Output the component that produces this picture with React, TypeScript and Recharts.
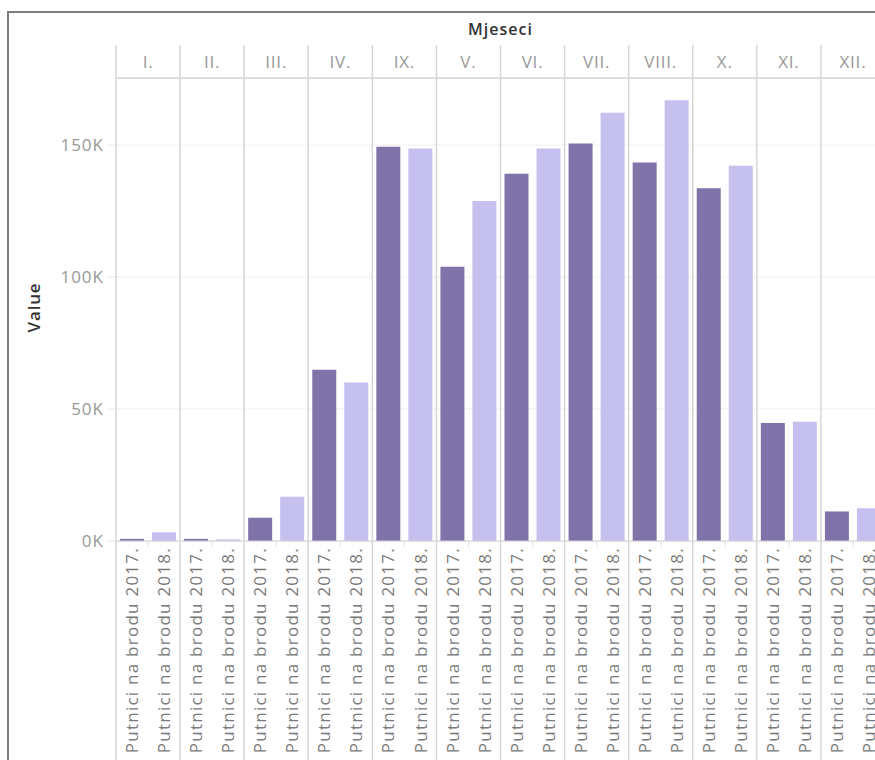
import React from 'react';
import { BarChart, Bar, XAxis, YAxis, CartesianGrid } from 'recharts';

const months = ['I.', 'II.', 'III.', 'IV.', 'IX.', 'V.', 'VI.', 'VII.', 'VIII.', 'X.', 'XI.', 'XII.'];
const seriesLabel2017 = 'Putnici na brodu 2017.';
const seriesLabel2018 = 'Putnici na brodu 2018.';
const values2017 = [800, 800, 8800, 64900, 149400, 103900, 139100, 150600, 143400, 133600, 44700, 11200];
const values2018 = [3300, 600, 16800, 60000, 148700, 128800, 148700, 162200, 167000, 142200, 45200, 12400];
const yTicks = [0, 50000, 100000, 150000];
const yMax = 175400;

const data = months.map((m, i) => ({ month: m, v2017: values2017[i], v2018: values2018[i] }));

const FONT = "'Open Sans', 'Noto Sans', sans-serif";
const CHART_W = 900;
const CHART_H = 760;
const MARGIN_TOP = 45;
const TOP_AXIS_H = 33;
const BOTTOM_AXIS_H = 219;
const Y_AXIS_W = 116;
const CAT_GAP = 4;
const BAR_GAP = 8;
const DIVIDER = '#d6d6d6';

const BottomTick = (props: any) => {
  const { x, y, payload } = props;
  const half = payload && payload.offset ? payload.offset : 32;
  const barSize = (2 * half - 2 * CAT_GAP - BAR_GAP) / 2;
  const c1 = x - half + CAT_GAP + barSize / 2;
  const c2 = c1 + barSize + BAR_GAP;
  const labelTop = y + 6;
  return (
    <g>
      <line x1={x - half} x2={x - half} y1={MARGIN_TOP} y2={CHART_H} stroke={DIVIDER} strokeWidth={1.5} />
      <line x1={x} x2={x} y1={y} y2={y + 6} stroke="#e2e2e2" strokeWidth={1} />
      {[{ cx: c1, t: seriesLabel2017 }, { cx: c2, t: seriesLabel2018 }].map((l, i) => (
        <text
          key={i}
          x={l.cx}
          y={labelTop}
          transform={`rotate(-90, ${l.cx}, ${labelTop})`}
          textAnchor="end"
          dy="0.36em"
          fill="#7a7a7a"
          fontSize={17}
          letterSpacing={1.25}
          fontFamily={FONT}
        >
          {l.t}
        </text>
      ))}
    </g>
  );
};

const ValueLabel = (props: any) => {
  const vb = props.viewBox || { y: 78, height: 463 };
  const cy = vb.y + vb.height / 2 - 2;
  const cx = 34;
  return (
    <text
      x={cx}
      y={cy}
      transform={`rotate(-90, ${cx}, ${cy})`}
      textAnchor="middle"
      dy="0.36em"
      fill="#333"
      fontSize={17}
      fontWeight={600}
      letterSpacing={0.8}
      fontFamily={FONT}
    >
      Value
    </text>
  );
};

export default function App() {
  return (
    <div style={{ position: 'absolute', left: 0, top: 0, width: 875, height: 760, overflow: 'hidden', background: '#fff' }}>
      <div style={{ position: 'absolute', left: 7, top: 11, width: 870, height: 2, background: '#7d7d7d' }} />
      <div style={{ position: 'absolute', left: 7, top: 11, width: 2, height: 760, background: '#7d7d7d' }} />
      <div style={{ position: 'absolute', left: 0, top: 0 }}>
        <BarChart
          width={CHART_W}
          height={CHART_H}
          data={data}
          margin={{ top: MARGIN_TOP, right: CHART_W - 885, left: 0, bottom: 0 }}
          barCategoryGap={CAT_GAP}
          barGap={BAR_GAP}
        >
          <CartesianGrid vertical={false} stroke="#efefef" strokeWidth={1} xAxisId="b" />
          <XAxis
            xAxisId="t"
            orientation="top"
            dataKey="month"
            height={TOP_AXIS_H}
            interval={0}
            tickLine={false}
            tickSize={0}
            tickMargin={10}
            axisLine={{ stroke: DIVIDER, strokeWidth: 1.5 }}
            tick={{ fill: '#999', fontSize: 17, fontFamily: FONT, letterSpacing: 0.8 }}
            label={{ value: 'Mjeseci', position: 'top', offset: 10, fill: '#333', fontSize: 16, fontWeight: 600, fontFamily: FONT, letterSpacing: 1 }}
          />
          <XAxis
            xAxisId="b"
            dataKey="month"
            height={BOTTOM_AXIS_H}
            interval={0}
            tickLine={false}
            tickSize={0}
            tickMargin={0}
            axisLine={{ stroke: '#cfcfcf', strokeWidth: 1 }}
            tick={<BottomTick />}
          />
          <YAxis
            width={Y_AXIS_W}
            domain={[0, yMax]}
            ticks={yTicks}
            allowDataOverflow
            axisLine={false}
            tickLine={{ stroke: '#e6e6e6' }}
            tickSize={8}
            tickMargin={4}
            tickFormatter={(v: number) => `${v / 1000}K`}
            tick={{ fill: '#999', fontSize: 17, fontFamily: FONT, letterSpacing: 1 }}
            label={{ content: <ValueLabel /> }}
          />
          <Bar xAxisId="b" dataKey="v2017" name={seriesLabel2017} fill="#8073a9" isAnimationActive={false} />
          <Bar xAxisId="b" dataKey="v2018" name={seriesLabel2018} fill="#c6c0ee" isAnimationActive={false} />
        </BarChart>
      </div>
    </div>
  );
}
